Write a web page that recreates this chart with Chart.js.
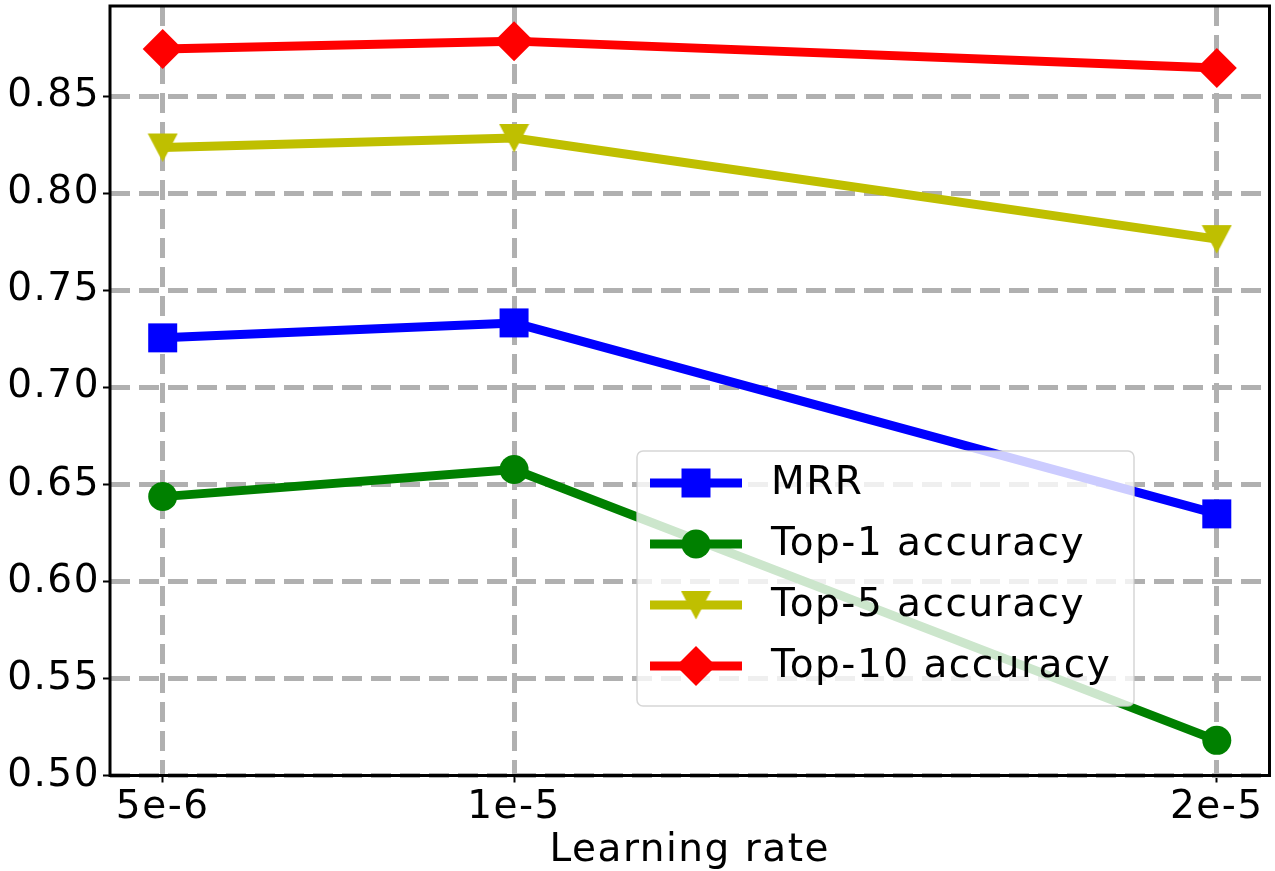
<!DOCTYPE html>
<html>
<head>
<meta charset="utf-8">
<script src="https://cdn.jsdelivr.net/npm/chart.js@4.4.1/dist/chart.umd.min.js"></script>
<style>
  html, body { margin: 0; padding: 0; background: #ffffff; }
  #wrap { width: 1275px; height: 871px; }
</style>
</head>
<body>
<div id="wrap"><canvas id="c" width="1275" height="871"></canvas></div>
<script>
// ---- data ----
const learningRates = [5e-6, 1e-5, 2e-5];
const xTickLabels = ['5e-6', '1e-5', '2e-5'];
const yTicks = [0.50, 0.55, 0.60, 0.65, 0.70, 0.75, 0.80, 0.85];
const seriesNames = ['MRR', 'Top-1 accuracy', 'Top-5 accuracy', 'Top-10 accuracy'];
const mrr = [0.7255, 0.7332, 0.6348];
const top1 = [0.6437, 0.6577, 0.5181];
const top5 = [0.8236, 0.8285, 0.7764];
const top10 = [0.8744, 0.8784, 0.8646];

const FONT = "'DejaVu Sans', 'Liberation Sans', sans-serif";
const FONT_SIZE = 39;
const LETTER_SPACING = '1.5px';
const colors = ['#0000ff', '#008000', '#bfbf00', '#ff0000'];

// downward triangle marker centred on its bounding box (like matplotlib 'v')
function makeTriangleDown(color) {
  const cv = document.createElement('canvas');
  cv.width = 31; cv.height = 30;
  const c = cv.getContext('2d');
  c.fillStyle = color;
  c.beginPath();
  c.moveTo(0.5, 1);
  c.lineTo(30.5, 1);
  c.lineTo(15.5, 29.5);
  c.closePath();
  c.fill();
  return cv;
}
const triDown = makeTriangleDown(colors[2]);

const markers = ['rect', 'circle', triDown, 'rectRot'];
const radii = [20.5, 14.5, 15, 20];
const allSeries = [mrr, top1, top5, top10];

const datasets = allSeries.map((vals, i) => ({
  label: seriesNames[i],
  data: learningRates.map((x, j) => ({ x: x, y: vals[j] })),
  borderColor: colors[i],
  backgroundColor: colors[i],
  borderWidth: 9,
  pointStyle: markers[i],
  pointRadius: radii[i],
  pointHoverRadius: radii[i],
  pointBorderWidth: 0,
  pointBackgroundColor: colors[i],
  borderJoinStyle: 'round',
  tension: 0,
  order: 3 - i,
  clip: false
}));

function drawMarker(ctx, style, x, y, rad, color) {
  ctx.save();
  ctx.fillStyle = color;
  ctx.beginPath();
  if (style instanceof HTMLCanvasElement) {
    ctx.drawImage(style, x - style.width / 2, y - style.height / 2);
    ctx.restore();
    return;
  }
  if (style === 'rect') {
    const s = rad * Math.SQRT1_2;
    ctx.rect(x - s, y - s, 2 * s, 2 * s);
  } else if (style === 'circle') {
    ctx.arc(x, y, rad, 0, Math.PI * 2);
  } else if (style === 'rectRot') {
    ctx.moveTo(x, y - rad);
    ctx.lineTo(x + rad, y);
    ctx.lineTo(x, y + rad);
    ctx.lineTo(x - rad, y);
    ctx.closePath();
  }
  ctx.fill();
  ctx.restore();
}

const framePlugin = {
  id: 'frame',
  beforeInit(chart) {
    try { chart.ctx.letterSpacing = LETTER_SPACING; } catch (e) {}
  },
  beforeLayout(chart) {
    try { chart.ctx.letterSpacing = LETTER_SPACING; } catch (e) {}
  },
  beforeDraw(chart) {
    try { chart.ctx.letterSpacing = LETTER_SPACING; } catch (e) {}
  },
  afterDatasetsDraw(chart) {
    const { ctx } = chart;
    const lx = 637, ly = 451, lw = 497, lh = 255, r = 6;
    ctx.save();
    ctx.beginPath();
    ctx.moveTo(lx + r, ly);
    ctx.lineTo(lx + lw - r, ly);
    ctx.arcTo(lx + lw, ly, lx + lw, ly + r, r);
    ctx.lineTo(lx + lw, ly + lh - r);
    ctx.arcTo(lx + lw, ly + lh, lx + lw - r, ly + lh, r);
    ctx.lineTo(lx + r, ly + lh);
    ctx.arcTo(lx, ly + lh, lx, ly + lh - r, r);
    ctx.lineTo(lx, ly + r);
    ctx.arcTo(lx, ly, lx + r, ly, r);
    ctx.closePath();
    ctx.fillStyle = 'rgba(255,255,255,0.8)';
    ctx.fill();
    ctx.lineWidth = 1.5;
    ctx.strokeStyle = 'rgba(204,204,204,0.8)';
    ctx.stroke();

    const rowY = [483, 544, 605, 666];
    chart.data.datasets.forEach((ds, i) => {
      const y = rowY[i];
      ctx.beginPath();
      ctx.moveTo(650, y);
      ctx.lineTo(742, y);
      ctx.lineWidth = 9;
      ctx.strokeStyle = ds.borderColor;
      ctx.lineCap = 'butt';
      ctx.stroke();
      drawMarker(ctx, ds.pointStyle, 696, y, ds.pointRadius, ds.borderColor);
      ctx.fillStyle = '#000000';
      ctx.font = FONT_SIZE + 'px ' + FONT;
      try { ctx.letterSpacing = LETTER_SPACING; } catch (e) {}
      ctx.textAlign = 'left';
      ctx.textBaseline = 'middle';
      ctx.fillText(ds.label, 771, y + 1);
    });
    ctx.restore();
  },
  afterDraw(chart) {
    const { ctx, chartArea: a } = chart;
    ctx.save();
    ctx.strokeStyle = '#000000';
    ctx.lineWidth = 3;
    ctx.strokeRect(a.left, a.top, a.right - a.left, a.bottom - a.top);
    ctx.restore();
  }
};

new Chart(document.getElementById('c'), {
  type: 'line',
  data: { datasets: datasets },
  options: {
    responsive: false,
    animation: false,
    devicePixelRatio: 1,
    layout: { autoPadding: false, padding: { top: 6, right: 5.5, left: 0, bottom: 0 } },
    plugins: {
      legend: { display: false },
      tooltip: { enabled: false }
    },
    events: [],
    scales: {
      x: {
        type: 'linear',
        min: 4.25e-6,
        max: 2.075e-5,
        afterBuildTicks(scale) {
          scale.ticks = learningRates.map(v => ({ value: v }));
        },
        afterFit(scale) {
          scale.height = 95.5;
          scale.paddingLeft = 0; scale.paddingRight = 0;
          scale.paddingTop = 0; scale.paddingBottom = 0;
        },
        ticks: {
          callback(value) {
            const idx = learningRates.findIndex(v => Math.abs(v - value) < 1e-9);
            return idx >= 0 ? xTickLabels[idx] : '';
          },
          color: '#000000',
          font: { family: FONT, size: FONT_SIZE },
          padding: 2,
          maxRotation: 0,
          autoSkip: false
        },
        grid: {
          color: '#b0b0b0',
          lineWidth: 5,
          drawTicks: true,
          tickLength: 7,
          tickColor: '#000000',
          tickWidth: 2
        },
        border: { display: false, dash: [20, 9] },
        title: {
          display: true,
          text: 'Learning rate',
          color: '#000000',
          font: { family: FONT, size: FONT_SIZE },
          padding: { top: 0, bottom: -3 }
        }
      },
      y: {
        type: 'linear',
        min: 0.50,
        max: 0.8965,
        afterBuildTicks(scale) {
          scale.ticks = yTicks.map(v => ({ value: v }));
        },
        afterFit(scale) {
          scale.width = 110;
          scale.paddingTop = 0; scale.paddingBottom = 0;
          scale.paddingLeft = 0; scale.paddingRight = 0;
        },
        ticks: {
          callback(value) { return value.toFixed(2); },
          color: '#000000',
          font: { family: FONT, size: FONT_SIZE },
          padding: 3,
          autoSkip: false
        },
        grid: {
          color: '#b0b0b0',
          lineWidth: 5,
          drawTicks: true,
          tickLength: 7,
          tickColor: '#000000',
          tickWidth: 2
        },
        border: { display: false, dash: [20, 9] }
      }
    }
  },
  plugins: [framePlugin]
});
</script>
</body>
</html>
